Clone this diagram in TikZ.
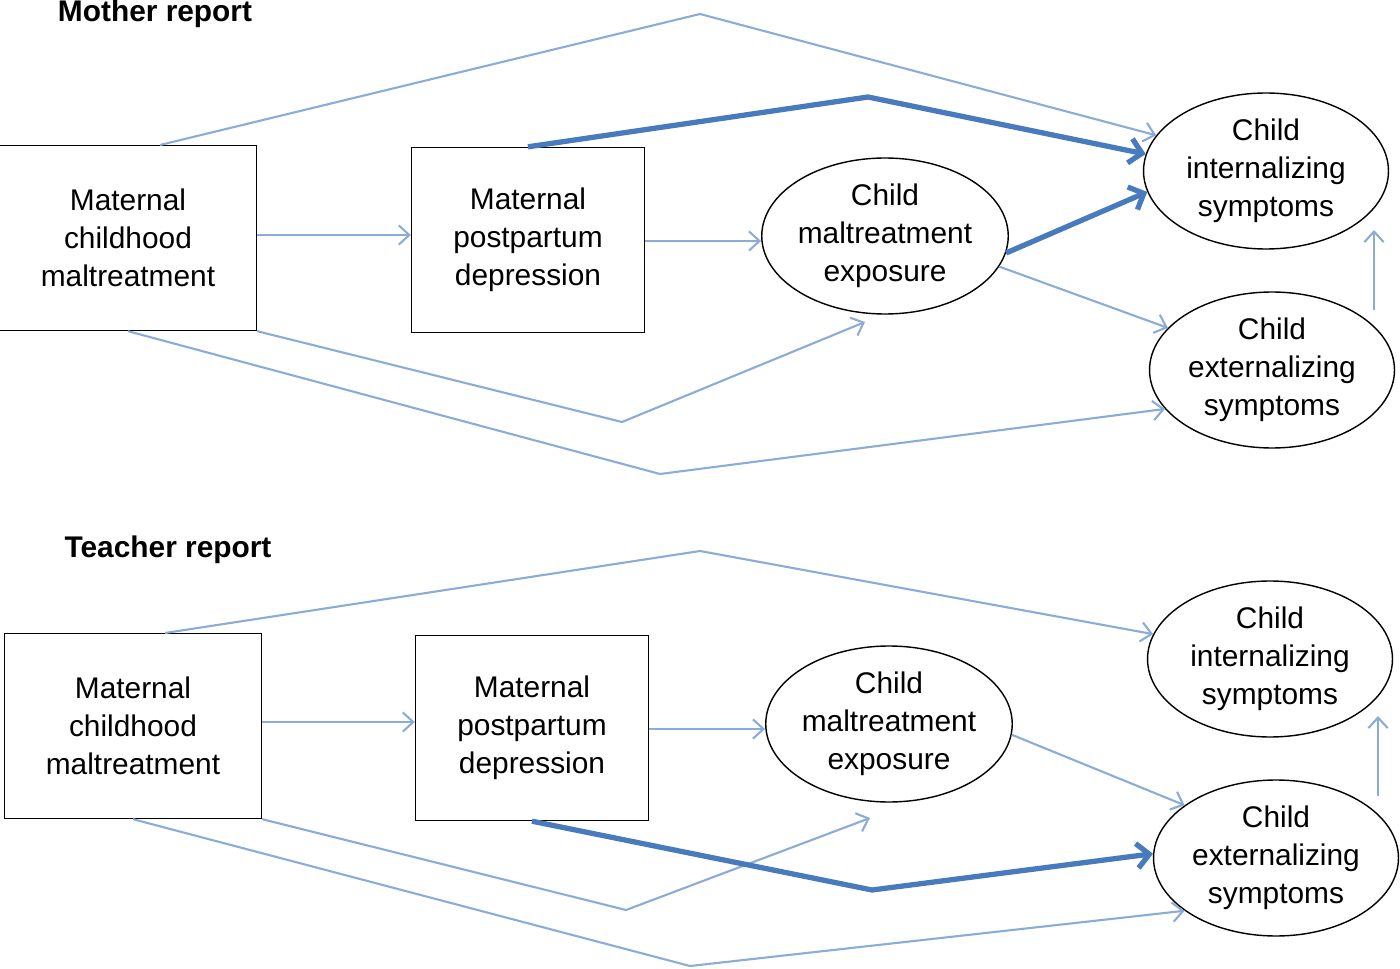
\documentclass[tikz,border=0pt]{standalone}
\usepackage{fontspec}
\setmainfont{Liberation Sans}
\usetikzlibrary{arrows.meta,shapes.geometric}
\definecolor{lightpath}{RGB}{140,172,216}
\definecolor{strongpath}{RGB}{72,122,190}
\tikzset{
  varbox/.style={draw,thick,minimum width=5.14cm,minimum height=3.7cm,align=center,font=\fontsize{17}{21.6}\selectfont},
  varoval/.style={draw,thick,ellipse,minimum width=4.9cm,minimum height=3.12cm,inner sep=0pt,align=center,font=\fontsize{17}{21.6}\selectfont},
  weak/.style={draw=lightpath,line width=1.2pt,-{Straight Barb[length=6pt,width=11pt]}},
  strong/.style={draw=strongpath,line width=3pt,-{Straight Barb[length=7pt,width=14pt]}},
  paneltitle/.style={font=\fontsize{17}{20}\selectfont\bfseries}
}
\begin{document}
\begin{tikzpicture}[x=0.02cm,y=-0.02cm]
\useasboundingbox (0,0) rectangle (1400,969);

% Mother report
\node[paneltitle] (mtitle) at (155,14) {Mother report};
\node[varbox] (mA) at (128,238) {Maternal\\childhood\\maltreatment};
\node[varbox,minimum width=4.66cm] (mB) at (528,240) {Maternal\\postpartum\\depression};
\node[varoval] (mC) at (885,236) {Child\\maltreatment\\exposure};
\node[varoval] (mD) at (1266,171) {Child\\internalizing\\symptoms};
\node[varoval] (mE) at (1272,370) {Child\\externalizing\\symptoms};
\coordinate (m1) at (700,14);
\coordinate (m2) at (622,422);
\coordinate (m3) at (660,474);
\coordinate (m4) at (868,97);
\coordinate (m5) at (865,322);
\coordinate (m6) at (1374,230);
\coordinate (m7) at (1374,310);

\draw[weak] (160,145) -- (m1) -- (mD.162);
\draw[weak] (mA.east|-0,235) -- (mB.west|-0,235);
\draw[weak] (mB.east|-0,241) -- (mC.west|-0,241);
\draw[weak] (mA.south east) -- (m2) -- (m5);
\draw[weak] (mA.south) -- (m3) -- (mE.200);
\draw[weak] (mC.-15) -- (mE.158);
\draw[weak,{Straight Barb[length=6pt,width=11pt]}-] (m6) -- (m7);
\draw[strong] (mB.north) -- (m4) -- (mD.172);
\draw[strong] (mC.-8) -- (mD.190);

% Teacher report
\node[paneltitle] (ttitle) at (168,550) {Teacher report};
\node[varbox] (tA) at (133,726) {Maternal\\childhood\\maltreatment};
\node[varbox,minimum width=4.66cm] (tB) at (532,728) {Maternal\\postpartum\\depression};
\node[varoval] (tC) at (889,724) {Child\\maltreatment\\exposure};
\node[varoval] (tD) at (1270,659) {Child\\internalizing\\symptoms};
\node[varoval] (tE) at (1276,858) {Child\\externalizing\\symptoms};
\coordinate (t1) at (700,551);
\coordinate (t2) at (626,910);
\coordinate (t3) at (690,966);
\coordinate (t4) at (872,890);
\coordinate (t5) at (870,818);
\coordinate (t6) at (1378,716);
\coordinate (t7) at (1378,796);

\draw[weak] (165,633) -- (t1) -- (tD.168);
\draw[weak] (tA.east|-0,722) -- (tB.west|-0,722);
\draw[weak] (tB.east|-0,729) -- (tC.west|-0,729);
\draw[weak] (tA.south east) -- (t2) -- (t5);
\draw[weak] (tA.south) -- (t3) -- (tE.210);
\draw[weak] (tC.-5) -- (tE.150);
\draw[weak,{Straight Barb[length=6pt,width=11pt]}-] (t6) -- (t7);
\draw[strong] (tB.south) -- (t4) -- (tE.178);
\end{tikzpicture}
\end{document}
